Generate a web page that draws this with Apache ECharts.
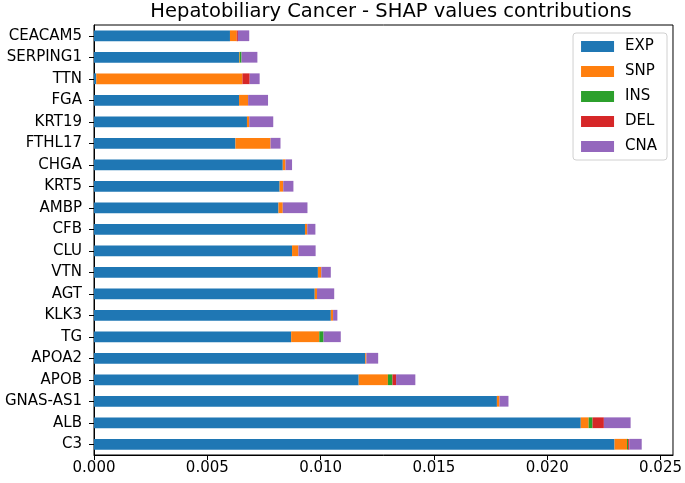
<!DOCTYPE html>
<html>
<head>
<meta charset="utf-8">
<script src="https://cdn.jsdelivr.net/npm/echarts@6/dist/echarts.min.js"></script>
<style>html,body{margin:0;padding:0;background:#fff}#c{width:685px;height:483px}</style>
</head>
<body>
<div id="c"></div>
<script>
// categories listed bottom to top
const categories = ["C3","ALB","GNAS-AS1","APOB","APOA2","TG","KLK3","AGT","VTN","CLU","CFB","AMBP","KRT5","CHGA","FTHL17","KRT19","FGA","TTN","SERPING1","CEACAM5"];
const EXP = [0.02297,0.02148,0.01778,0.01168,0.01197,0.0087,0.01045,0.00974,0.00988,0.00874,0.00931,0.00814,0.00819,0.00833,0.00624,0.00675,0.0064,0.0001,0.0064,0.0060];
const SNP = [0.00055,0.00035,0.00011,0.00129,0.00005,0.00124,0.0001,0.0001,0.00015,0.00028,0.0001,0.00019,0.00016,0.00012,0.00155,0.0001,0.0004,0.00645,0.00003,0.0003];
const INS = [0.00005,0.00017,0,0.0002,0,0.00019,0,0,0,0,0,0,0,0,0,0,0,0,0.00008,0];
const DEL = [0.00005,0.0005,0,0.00016,0,0,0,0,0,0,0,0,0,0,0,0,0,0.00032,0,0.00005];
const CNA = [0.00055,0.00118,0.0004,0.00085,0.00052,0.00076,0.00019,0.00076,0.00042,0.00076,0.00036,0.00109,0.00045,0.00029,0.00044,0.00106,0.00088,0.00044,0.0007,0.0005];
const xTicks = [0, 0.005, 0.01, 0.015, 0.02, 0.025];
const seriesNames = ["EXP","SNP","INS","DEL","CNA"];
const seriesData = [EXP, SNP, INS, DEL, CNA];
const colors = ["#1f77b4","#ff7f0e","#2ca02c","#d62728","#9467bd"];

const chart = echarts.init(document.getElementById('c'));
const font = 'DejaVu Sans';
chart.setOption({
  animation: false,
  color: colors,
  title: {
    text: 'Hepatobiliary Cancer - SHAP values contributions',
    left: 386, top: -3, textAlign: 'center',
    textStyle: {fontFamily: font, fontSize: 19.5, fontWeight: 'normal', color: '#000'}
  },
  legend: {
    orient: 'vertical', right: 18, top: 33,
    itemWidth: 33, itemHeight: 11, itemGap: 10,
    padding: [6, 10, 6, 8],
    borderColor: '#d0d0d0', borderWidth: 1, borderRadius: 3,
    icon: 'rect',
    textStyle: {fontFamily: font, fontSize: 15, lineHeight: 15, color: '#000', padding: [0, 0, 0, 6]},
    data: seriesNames
  },
  grid: {left: 94, right: 9, top: 25, bottom: 28, show: true, borderColor: '#000', borderWidth: 1, containLabel: false},
  xAxis: {
    type: 'value', min: 0, max: 0.02555,
    splitLine: {show: false},
    axisLine: {show: true, lineStyle: {color: '#000'}},
    axisTick: {show: true, length: 5, customValues: xTicks, lineStyle: {color: '#000'}},
    axisLabel: {customValues: xTicks, fontFamily: font, fontSize: 15, color: '#000', margin: 6,
      formatter: v => v.toFixed(3)}
  },
  yAxis: {
    type: 'category', data: categories,
    axisLine: {show: true, lineStyle: {color: '#000'}},
    axisTick: {show: true, length: 5, alignWithLabel: true, lineStyle: {color: '#000'}},
    axisLabel: {fontFamily: font, fontSize: 15, color: '#000', margin: 12}
  },
  series: seriesNames.map((n, i) => ({
    name: n, type: 'bar', stack: 'total', barWidth: '50%',
    data: seriesData[i]
  }))
});
</script>
</body>
</html>
